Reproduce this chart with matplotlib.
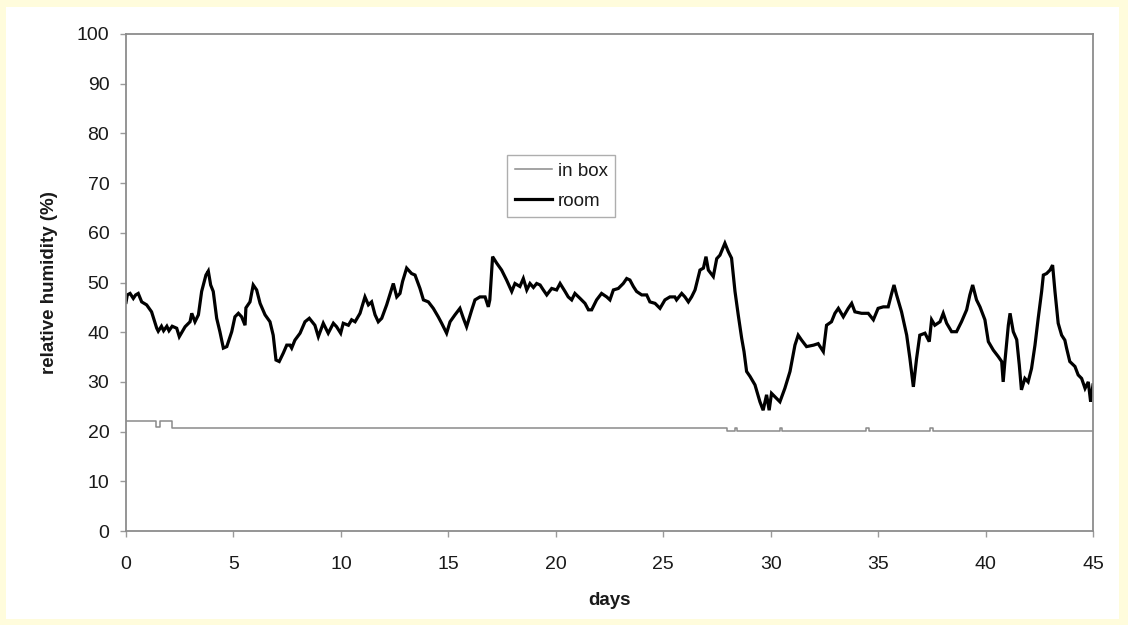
import matplotlib
matplotlib.use("Agg")
import matplotlib.pyplot as plt
from matplotlib.patches import Rectangle

plt.rcParams['font.family'] = ['Liberation Sans', 'DejaVu Sans']

room_days = [0.0, 0.06, 0.19, 0.34, 0.45, 0.57, 0.73, 0.96, 1.19, 1.43, 1.5, 1.65, 1.75, 1.9, 2.0, 2.15,
             2.36, 2.48, 2.75, 2.98, 3.06, 3.21, 3.37, 3.52, 3.72, 3.83, 3.94, 4.06, 4.22, 4.37, 4.53,
             4.69, 4.92, 5.07, 5.23, 5.38, 5.54, 5.58, 5.77, 5.92, 6.08, 6.24, 6.47, 6.70, 6.85, 6.98,
             7.13, 7.32, 7.48, 7.63, 7.71, 7.86, 8.10, 8.33, 8.53, 8.72, 8.79, 8.95, 9.18, 9.41, 9.65,
             9.80, 9.99, 10.11, 10.35, 10.50, 10.66, 10.89, 11.12, 11.28, 11.43, 11.59, 11.74, 11.90,
             12.13, 12.44, 12.60, 12.75, 12.87, 13.06, 13.29, 13.45, 13.68, 13.84, 14.07, 14.30, 14.53,
             14.69, 14.92, 15.08, 15.31, 15.54, 15.70, 15.85, 16.09, 16.24, 16.47, 16.71, 16.86, 16.93,
             17.06, 17.25, 17.48, 17.71, 17.95, 18.10, 18.33, 18.49, 18.65, 18.80, 18.96, 19.11, 19.27,
             19.42, 19.58, 19.81, 20.04, 20.20, 20.43, 20.58, 20.74, 20.89, 21.13, 21.36, 21.52, 21.67,
             21.90, 22.13, 22.37, 22.52, 22.68, 22.91, 23.14, 23.30, 23.45, 23.61, 23.76, 24.0, 24.23,
             24.38, 24.62, 24.85, 25.08, 25.31, 25.54, 25.62, 25.86, 26.01, 26.17, 26.32, 26.48, 26.71,
             26.87, 26.99, 27.10, 27.33, 27.49, 27.64, 27.87, 28.03, 28.18, 28.34, 28.49, 28.65, 28.76,
             28.88, 29.04, 29.27, 29.50, 29.65, 29.81, 29.93, 30.04, 30.20, 30.43, 30.66, 30.90, 31.13,
             31.28, 31.44, 31.67, 32.0, 32.21, 32.45, 32.60, 32.83, 32.99, 33.15, 33.38, 33.61, 33.77,
             33.92, 34.23, 34.54, 34.78, 35.0, 35.24, 35.47, 35.63, 35.74, 35.86, 36.09, 36.33, 36.48,
             36.64, 36.79, 36.94, 37.18, 37.38, 37.49, 37.64, 37.88, 38.03, 38.19, 38.42, 38.65, 38.88,
             39.12, 39.27, 39.40, 39.58, 39.74, 39.97, 40.13, 40.36, 40.59, 40.75, 40.82, 40.90, 41.06,
             41.14, 41.29, 41.45, 41.57, 41.67, 41.83, 41.98, 42.14, 42.30, 42.45, 42.61, 42.69, 42.84,
             43.0, 43.12, 43.23, 43.38, 43.54, 43.69, 43.77, 43.92, 44.16, 44.31, 44.47, 44.63, 44.78,
             44.89, 45.0]
room_rh = [46.0, 47.5, 47.8, 46.8, 47.5, 47.8, 46.1, 45.5, 44.1, 40.8, 40.2, 41.2, 40.3, 41.2, 40.3, 41.2,
           40.8, 39.1, 41.1, 42.1, 43.8, 42.1, 43.5, 48.2, 51.5, 52.3, 49.5, 48.2, 42.8, 40.1, 36.8,
           37.1, 40.1, 43.1, 43.8, 43.1, 41.4, 44.9, 46.1, 49.5, 48.5, 45.8, 43.5, 42.1, 39.4, 34.4,
           34.1, 35.8, 37.4, 37.4, 36.8, 38.4, 39.8, 42.1, 42.8, 41.8, 41.4, 39.1, 41.8, 39.8, 41.8,
           41.1, 39.8, 41.8, 41.4, 42.5, 42.1, 43.8, 47.1, 45.5, 46.1, 43.5, 42.1, 42.8,
           45.5, 49.8, 47.1, 47.8, 50.2, 52.9, 51.8, 51.5, 48.8, 46.5, 46.1, 44.8, 43.1,
           41.8, 39.8, 42.1, 43.5, 44.8, 42.8, 41.1, 44.5, 46.5, 47.1, 47.1, 45.1, 46.5,
           55.2, 53.9, 52.5, 50.5, 48.2, 49.8, 49.2, 50.8, 48.5, 49.8, 49.0, 49.8, 49.5,
           48.5, 47.5, 48.8, 48.5, 49.8, 48.2, 47.1, 46.5, 47.8, 46.8, 45.8, 44.5, 44.5,
           46.5, 47.8, 47.1, 46.5, 48.5, 48.8, 49.8, 50.8, 50.5, 49.2, 48.2, 47.5, 47.5,
           46.1, 45.8, 44.8, 46.5, 47.1, 47.1, 46.5, 47.8, 47.1, 46.1, 47.1, 48.5, 52.5,
           52.9, 55.2, 52.5, 51.2, 54.8, 55.5, 57.9, 56.2, 54.9, 48.2, 43.5, 38.8, 36.1,
           32.1, 31.1, 29.4, 26.0, 24.3, 27.4, 24.3, 27.7, 27.0, 26.0, 28.7, 32.1, 37.4,
           39.4, 38.4, 37.1, 37.4, 37.7, 36.1, 41.4, 42.1, 43.8, 44.8, 43.1, 44.8, 45.8,
           44.1, 43.8, 43.8, 42.5, 44.8, 45.1, 45.1, 47.8, 49.5, 47.5, 44.1, 39.4, 34.7,
           29.0, 34.7, 39.4, 39.8, 38.1, 42.5, 41.4, 42.1, 43.8, 41.8, 40.1, 40.1, 42.1,
           44.5, 47.5, 49.5, 46.5, 45.1, 42.5, 38.1, 36.4, 35.1, 34.1, 30.0, 34.1, 41.4,
           43.8, 40.1, 38.5, 33.4, 28.4, 30.7, 30.0, 32.7, 37.4, 42.8, 48.2, 51.5, 51.8,
           52.5, 53.5, 48.2, 41.8, 39.4, 38.4, 36.8, 34.1, 33.1, 31.4, 30.7, 28.7, 30.0,
           26.0, 29.4]

inbox_days = [0, 1.38, 1.6, 2.12, 27.95, 28.32, 28.42, 30.42, 30.52, 34.42, 34.58, 37.42, 37.56, 45]
inbox_rh = [22.2, 21.0, 22.2, 20.8, 20.1, 20.8, 20.1, 20.8, 20.1, 20.8, 20.1, 20.8, 20.1, 20.1]

x_ticks = [0, 5, 10, 15, 20, 25, 30, 35, 40, 45]
y_ticks = [0, 10, 20, 30, 40, 50, 60, 70, 80, 90, 100]

fig = plt.figure(figsize=(11.28, 6.25), dpi=100)
fig.patch.set_facecolor('#FFFCDC')
fig.patches.append(Rectangle((6 / 1128, 1 - 619 / 625), (1119 - 6) / 1128, (619 - 7) / 625,
                             transform=fig.transFigure, facecolor='white', edgecolor='none', zorder=-10))

ax = fig.add_axes([126 / 1128, 1 - 531 / 625, (1093 - 126) / 1128, (531 - 34) / 625])
ax.set_zorder(5)
ax.set_facecolor('white')

ax.plot(inbox_days, inbox_rh, drawstyle='steps-post', color='#8a8a8a', lw=1.1, label='in box')
ax.plot(room_days, room_rh, color='black', lw=2.3, label='room', solid_joinstyle='miter')

ax.set_xlim(0, 45)
ax.set_ylim(0, 100)
ax.set_xticks(x_ticks)
ax.set_yticks(y_ticks)
ax.tick_params(axis='both', colors='#9a9a9a', labelcolor='#1a1a1a', labelsize=14,
               length=4, width=1, direction='out')
ax.tick_params(axis='x', pad=14)
ax.tick_params(axis='y', pad=8)
for s in ax.spines.values():
    s.set_color('#8c8c8c')
    s.set_linewidth(1.3)

ax.set_xlabel('days', fontsize=13.5, fontweight='bold', color='#1a1a1a')
ax.set_ylabel('relative humidity (%)', fontsize=13.5, fontweight='bold', color='#1a1a1a')
ax.xaxis.set_label_coords(0.5, -(592 - 531) / 497)
ax.yaxis.set_label_coords(-(126 - 58) / 967, 0.5)

leg = ax.legend(loc='upper left', bbox_to_anchor=((507 - 126) / 967, (531 - 155) / 497),
                borderaxespad=0, frameon=True, fancybox=False,
                fontsize=13.5, handlelength=2.0, borderpad=0.4, labelspacing=0.7, handletextpad=0.3)
leg.get_frame().set_edgecolor('#9a9a9a')
leg.get_frame().set_linewidth(1.0)
for t in leg.get_texts():
    t.set_color('#1a1a1a')

fig.savefig('out.png', dpi=100, facecolor=fig.get_facecolor())
